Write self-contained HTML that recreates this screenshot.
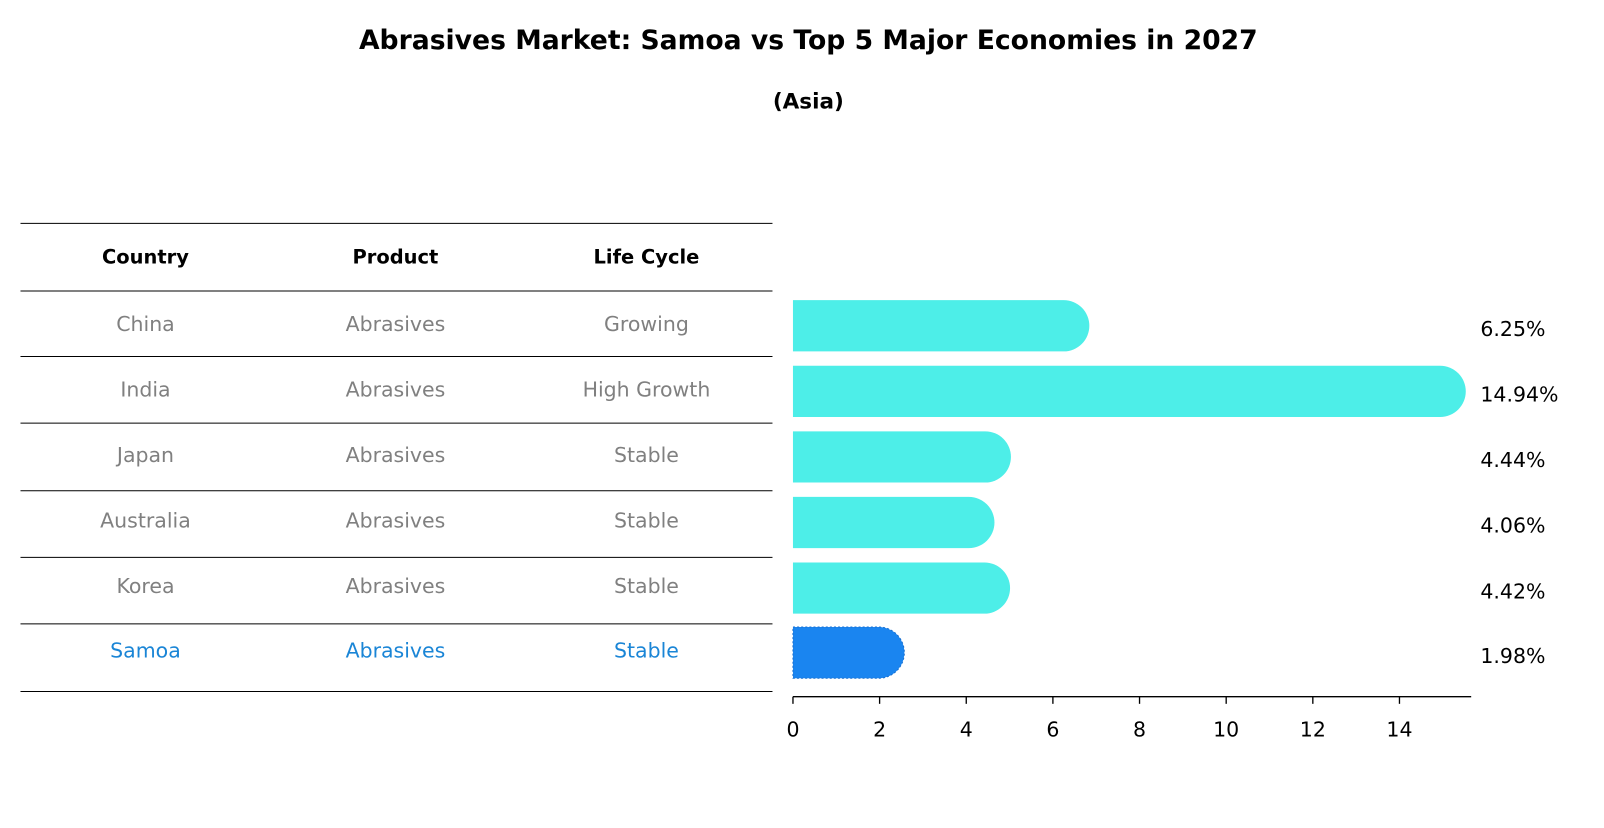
<!DOCTYPE html>
<html><head><meta charset="utf-8"><style>
body{margin:0;background:#fff;font-family:"Liberation Sans","DejaVu Sans",sans-serif}
svg text{font-family:"DejaVu Sans","Liberation Sans",sans-serif}
</style></head><body>
<svg id="c" width="1604" height="823" viewBox="0 0 1604 823" xmlns="http://www.w3.org/2000/svg">
<g transform="scale(1.0245)">
<text x="789" y="48" text-anchor="middle" font-size="26" font-weight="bold">Abrasives Market: Samoa vs Top 5 Major Economies in 2027</text>
<text x="789" y="106" text-anchor="middle" font-size="21" font-weight="bold">(Asia)</text>
<g id="tbl"></g>
<g id="bars"></g>
</g>
</svg>
<script>
const countries=["China","India","Japan","Australia","Korea","Samoa"];
const products=["Abrasives","Abrasives","Abrasives","Abrasives","Abrasives","Abrasives"];
const lifecycle=["Growing","High Growth","Stable","Stable","Stable","Stable"];
const values=[6.25,14.94,4.44,4.06,4.42,1.98];
const ticks=[0,2,4,6,8,10,12,14];
const NS="http://www.w3.org/2000/svg";
function mk(t,a,p){const e=document.createElementNS(NS,t);for(const k in a)e.setAttribute(k,a[k]);p.appendChild(e);return e;}
const tbl=document.getElementById('tbl'),bars=document.getElementById('bars');
const lines=[218,284,348,413,479,544,609,675];
lines.forEach((y,i)=>{const l=mk('line',{x1:20,x2:754,y1:y,y2:y,stroke:'#000','stroke-width':1},tbl);

});
const cx=[142,386,631];
["Country","Product","Life Cycle"].forEach((h,i)=>{const t=mk('text',{x:cx[i],y:257,'text-anchor':'middle','font-size':19,'font-weight':'bold'},tbl);t.textContent=h;

});
const rowY=[318,382,446,510,574,637];
countries.forEach((c,i)=>{const col=i===5?'#1a85d6':'#808080';
[c,products[i],lifecycle[i]].forEach((v,j)=>{const t=mk('text',{x:cx[j],y:rowY[i]+5,'text-anchor':'middle','font-size':20,fill:col},tbl);t.textContent=v;

});});
const x0=774,k=(1366-774)/14;
const xs=v=>x0+v*k;
const h=50,r=25;
values.forEach((v,i)=>{const y=rowY[i]-h/2,xe=xs(v);const col=i===5?'#1a85f0':'#4deee8';
const p=mk('path',{d:`M${x0},${y} H${xe} A${r},${r} 0 0 1 ${xe},${y+h} H${x0} Z`,fill:col},bars);
if(i===5){p.setAttribute('stroke','#1a70d0');p.setAttribute('stroke-dasharray','2,2');}


const t=mk('text',{x:1445,y:rowY[i]+10,'font-size':20},bars);t.textContent=v.toFixed(2)+'%';

});
const ax=mk('line',{x1:x0,x2:1436,y1:680,y2:680,stroke:'#000','stroke-width':1.3},bars);


ticks.forEach(v=>{const tk=mk('line',{x1:xs(v),x2:xs(v),y1:680,y2:687,stroke:'#000','stroke-width':1.3},bars);


const t=mk('text',{x:xs(v),y:719,'text-anchor':'middle','font-size':20},bars);t.textContent=v;

});
</script>
</body></html>
